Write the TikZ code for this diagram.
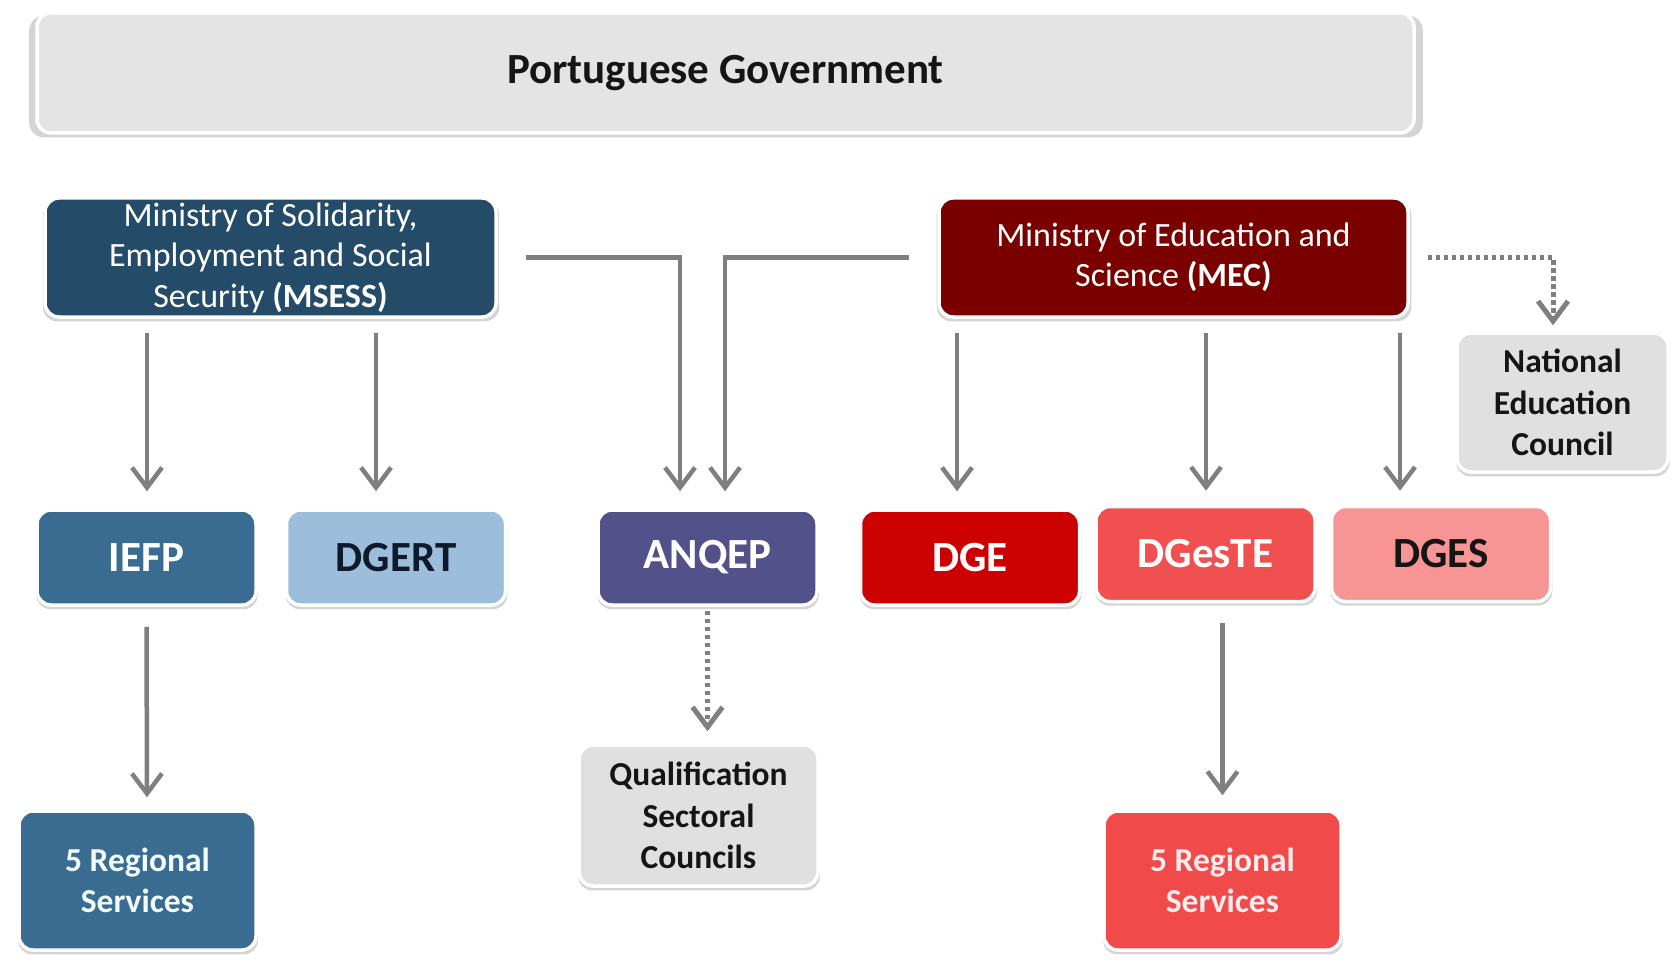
\documentclass[tikz,border=0pt]{standalone}
\usepackage{fontspec}
\setmainfont{Carlito}
\usetikzlibrary{shadows,arrows.meta,calc}
\definecolor{govgray}{HTML}{E4E4E4}
\definecolor{boxgray}{HTML}{E0E0E0}
\definecolor{msessblue}{HTML}{244B68}
\definecolor{mecred}{HTML}{7A0000}
\definecolor{iefpblue}{HTML}{3A6C91}
\definecolor{dgertblue}{HTML}{9CBEDA}
\definecolor{anqeppurple}{HTML}{535189}
\definecolor{dgered}{HTML}{CC0000}
\definecolor{dgestered}{HTML}{F05050}
\definecolor{dgespink}{HTML}{F79494}
\definecolor{rsred}{HTML}{F04A4A}
\definecolor{arrgray}{HTML}{7F7F7F}
\definecolor{darktext}{HTML}{151515}
\definecolor{navytext}{HTML}{0E1A2B}
\newcommand\fTitle{\fontsize{43}{50}\selectfont\bfseries}
\newcommand\fBig{\fontsize{43}{50}\selectfont\bfseries}
\newcommand\fMid{\fontsize{34}{40.5}\selectfont}
\newcommand\fGray{\fontsize{33.5}{41.6}\selectfont\bfseries}
\begin{document}
\begin{tikzpicture}[x=1pt,y=-1pt,
  box/.style={draw=white, line width=3.5pt, rounded corners=14pt, align=center, inner sep=0pt,
    drop shadow={shadow xshift=0.5pt, shadow yshift=-3.5pt, shadow scale=1.012, opacity=0.3, fill=black!55}},
  arr/.style={draw=arrgray, line width=4.5pt, -{Straight Barb[length=20pt,width=30pt]}},
  dotarr/.style={arr, line width=5pt, dash pattern=on 4.5pt off 3.5pt},
  small/.style={box, minimum width=219pt, minimum height=95pt, font=\fBig},
  graybox/.style={box, fill=boxgray, text=darktext, font=\fGray}
]
\useasboundingbox (0,0) rectangle (1673,960);
\fill[white] (0,0) rectangle (1673,960);

\node[box, fill=govgray, text=darktext, minimum width=1377pt, minimum height=120pt, font=\fTitle] (gov) at (725.5,73) {Portuguese Government};

\node[box, fill=msessblue, text=white, minimum width=451pt, minimum height=119pt, font=\fMid] (MSESS) at (270.5,257.5)
  {Ministry of Solidarity,\\Employment and Social\\Security \textbf{(MSESS)}};
\node[box, fill=mecred, text=white, minimum width=469pt, minimum height=119pt, font=\fMid] (MEC) at (1173.5,257.5)
  {Ministry of Education and\\Science \textbf{(MEC)}};
\node[graybox, minimum width=211pt, minimum height=139pt] (NEC) at (1562.5,402.5)
  {National\\Education\\Council};

\node[small, fill=iefpblue, text=white] (IEFP) at (146.5,557.5) {IEFP};
\node[small, fill=dgertblue, text=navytext] (DGERT) at (396,557.5) {DGERT};
\node[small, fill=anqeppurple, text=white] (ANQEP) at (707.5,557.5) {ANQEP};
\node[small, fill=dgered, text=white] (DGE) at (970,557.5) {DGE};
\node[small, fill=dgestered, text=white] (DGesTE) at (1205.5,554) {DGesTE};
\node[small, fill=dgespink, text=darktext] (DGES) at (1441,554) {DGES};

\node[graybox, minimum width=239pt, minimum height=141pt] (QSC) at (698.5,815.5)
  {Qualification\\Sectoral\\Councils};
\node[box, fill=iefpblue, text=white!95!cyan, minimum width=237pt, minimum height=139pt, font=\fGray] (RS1) at (137.5,880.5)
  {5 Regional\\Services};
\node[box, fill=rsred, text=white!92!red, minimum width=237pt, minimum height=139pt, font=\fGray] (RS2) at (1222.5,880.5)
  {5 Regional\\Services};

% target points of arrows
\coordinate (tIEFP) at ($(IEFP.north)+(0.5,0)$);
\coordinate (tDGERT) at ($(DGERT.north)+(-20,0)$);
\coordinate (tANQa) at ($(ANQEP.north)+(-27.5,0)$);
\coordinate (tANQb) at ($(ANQEP.north)+(17.5,0)$);
\coordinate (tDGE) at ($(DGE.north)+(-13,0)$);
\coordinate (tDGesTE) at ($(DGesTE.north)+(0.5,0)$);
\coordinate (tDGES) at ($(DGES.north)+(-41,0)$);
\coordinate (tNEC) at ($(NEC.north)+(-9.5,0)$);
\coordinate (tQSC) at (QSC.north -| ANQEP.south);
\coordinate (tRS1) at (RS1.north -| tIEFP);
\coordinate (tRS2) at (RS2.north);

\draw[arr, shorten <=14pt, shorten >=17pt] (MSESS.south -| tIEFP) -- (tIEFP);
\draw[arr, shorten <=14pt, shorten >=17pt] (MSESS.south -| tDGERT) -- (tDGERT);
\draw[arr, shorten <=14pt, shorten >=17pt] ([xshift=14pt]MSESS.east) -| (tANQa);
\draw[arr, shorten <=14pt, shorten >=17pt] ([xshift=-14pt]MEC.west) -| (tANQb);
\draw[arr, shorten <=14pt, shorten >=17pt] (MEC.south -| tDGE) -- (tDGE);
\draw[arr, shorten <=14pt, shorten >=14pt] (MEC.south -| tDGesTE) -- (tDGesTE);
\draw[arr, shorten <=14pt, shorten >=14pt] (MEC.south -| tDGES) -- (tDGES);
\draw[dotarr, shorten <=18pt, shorten >=6pt] (MEC.east) -| (tNEC);
\draw[dotarr, shorten <=4pt, shorten >=12pt] (ANQEP.south) -- (tQSC);
\draw[arr, shorten <=20pt, shorten >=12pt] (IEFP.south) -- (tRS1);
\draw[arr, shorten <=20pt, shorten >=14pt] (DGesTE.south -| tRS2) -- (tRS2);
\end{tikzpicture}
\end{document}
